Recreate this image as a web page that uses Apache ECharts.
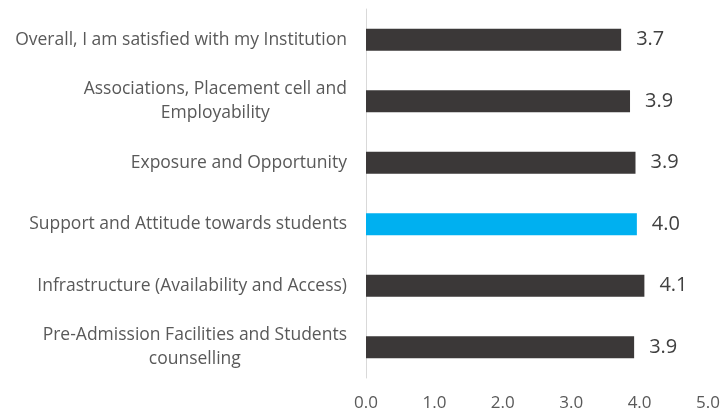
<!DOCTYPE html>
<html>
<head>
<meta charset="utf-8">
<script src="https://cdn.jsdelivr.net/npm/echarts@6/dist/echarts.min.js"></script>
<style>
html,body{margin:0;padding:0;background:#fff;}
#chart{width:723px;height:417px;}
</style>
</head>
<body>
<div id="chart"></div>
<script>
// categories, bottom to top
var categories = [
    'Pre-Admission Facilities and Students\ncounselling',
    'Infrastructure (Availability and Access)',
    'Support and Attitude towards students',
    'Exposure and Opportunity',
    'Associations, Placement cell and\nEmployability',
    'Overall, I am satisfied with my Institution'
];
var scores = [3.92, 4.07, 3.96, 3.94, 3.86, 3.73];
var highlightIndex = 2; // Support and Attitude -> blue
var xTicks = ['0.0', '1.0', '2.0', '3.0', '4.0', '5.0'];

var myChart = echarts.init(document.getElementById('chart'));

var barData = scores.map(function (v, i) {
    return {
        value: v,
        itemStyle: { color: i === highlightIndex ? '#00B0F0' : '#3B3838' }
    };
});

var option = {
    animation: false,
    grid: {
        left: 366,
        right: 15,
        top: 9,
        bottom: 39
    },
    xAxis: {
        type: 'value',
        min: 0,
        max: 5,
        interval: 1,
        axisLine: { show: false },
        axisTick: { show: false },
        splitLine: { show: false },
        axisLabel: {
            margin: 17,
            color: '#595959',
            fontFamily: 'Open Sans',
            fontSize: 17,
            formatter: function (v) { return xTicks[Math.round(v)]; }
        }
    },
    yAxis: {
        type: 'category',
        data: categories,
        axisLine: { show: true, lineStyle: { color: '#D9D9D9', width: 1 } },
        axisTick: { show: false },
        axisLabel: {
            margin: 19,
            color: '#595959',
            fontFamily: 'Open Sans',
            fontSize: 17.5,
            lineHeight: 24,
            formatter: function (v) {
                return v.split('\n').map(function (s) { return '{c|' + s + '}'; }).join('\n');
            },
            rich: {
                c: { align: 'center', color: '#595959', fontFamily: 'Open Sans', fontSize: 17.5, lineHeight: 24 }
            }
        }
    },
    series: [
        {
            type: 'bar',
            data: barData,
            barWidth: 22,
            label: {
                show: true,
                position: 'right',
                distance: 15,
                color: '#404040',
                fontFamily: 'Open Sans',
                fontSize: 20,
                formatter: function (p) { return p.value.toFixed(1); }
            }
        }
    ]
};
myChart.setOption(option);
</script>
</body>
</html>
